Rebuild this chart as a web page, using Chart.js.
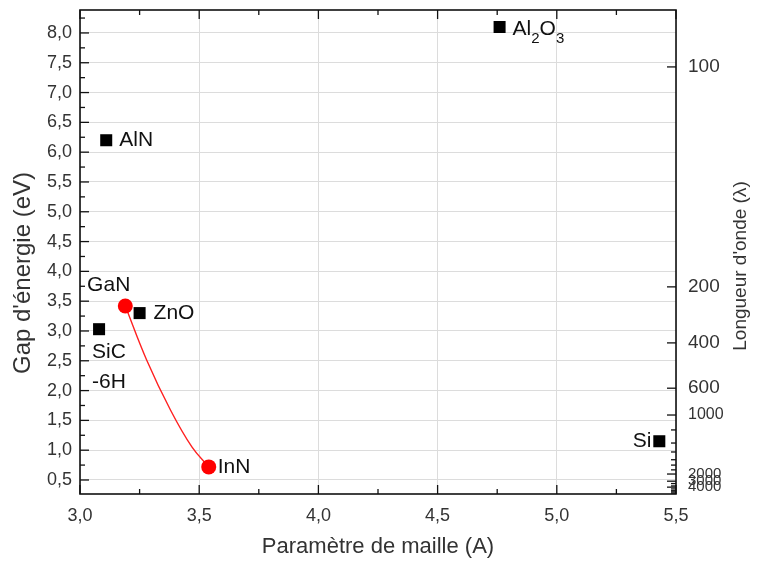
<!DOCTYPE html>
<html>
<head>
<meta charset="utf-8">
<script src="https://cdn.jsdelivr.net/npm/chart.js"></script>
<style>
  body { margin: 0; background: #fff; }
  #wrap { width: 758px; height: 563px; }
</style>
</head>
<body>
<div id="wrap"><canvas id="gap-chart" width="758" height="563"></canvas></div>
<script>
// materials drawn as black squares
const squareNames = ['AlN', 'ZnO', 'SiC\n-6H', 'Al2O3', 'Si'];
const squareLattice = [3.11, 3.25, 3.08, 4.76, 5.43];
const squareGap = [6.2, 3.3, 3.03, 8.1, 1.15];

// nitrides (red circles) and the InGaN curve between them
const nitrideNames = ['GaN', 'InN'];
const nitrideLattice = [3.19, 3.54];
const nitrideGap = [3.42, 0.72];
const curveLattice = [3.19, 3.28, 3.38, 3.47, 3.54];
const curveGap = [3.42, 2.51, 1.67, 1.05, 0.72];

// axes
const latticeTicks = [3.0, 3.5, 4.0, 4.5, 5.0, 5.5];
const latticeMinor = [3.25, 3.75, 4.25, 4.75, 5.25];
const gapTicks = [0.5, 1.0, 1.5, 2.0, 2.5, 3.0, 3.5, 4.0, 4.5, 5.0, 5.5, 6.0, 6.5, 7.0, 7.5, 8.0];
const gapMinor = [0.75, 1.25, 1.75, 2.25, 2.75, 3.25, 3.75, 4.25, 4.75, 5.25, 5.75, 6.25, 6.75, 7.25, 7.75, 8.25];
const waveLabels = ['100', '200', '400', '600', '1000', '2000', '3000', '4000'];
const waveAtGap = [7.43, 3.74, 2.80, 2.04, 1.59, 0.60, 0.48, 0.38];
const waveMinorAtGap = [1.34, 1.12, 0.97, 0.84, 0.75, 0.67, 0.44, 0.40, 0.35, 0.32, 0.30, 0.28];

const gapTitle = "Gap d'énergie (eV)";
const waveTitle = "Longueur d'onde (λ)";

const fontFam = "'Liberation Sans', Arial, sans-serif";
const toComma = v => v.toFixed(1).replace('.', ',');

// where each name goes relative to its marker: dx, dy, align
const labelPlace = {
  'AlN': [13, 0, 'left'],
  'ZnO': [14, 0, 'left'],
  'SiC\n-6H': [-7, 23, 'left'],
  'Al2O3': [13, 2, 'left'],
  'Si': [-8, 0, 'right'],
  'GaN': [5, -21, 'right'],
  'InN': [9, 0, 'left']
};

function drawName(ctx, text, x, y, align) {
  const big = '21px ' + fontFam, small = '15px ' + fontFam;
  const parts = [];
  for (let i = 0; i < text.length; i++) {
    const ch = text[i];
    // a digit right after a letter is a chemical subscript
    const sub = /[0-9]/.test(ch) && i > 0 && /[A-Za-z]/.test(text[i - 1]);
    parts.push({ch, sub});
  }
  let w = 0;
  parts.forEach(p => { ctx.font = p.sub ? small : big; p.w = ctx.measureText(p.ch).width; w += p.w; });
  let cx = align === 'right' ? x - w : x;
  ctx.textAlign = 'left';
  ctx.textBaseline = 'middle';
  parts.forEach(p => {
    ctx.font = p.sub ? small : big;
    ctx.fillText(p.ch, cx, p.sub ? y + 10 : y);
    cx += p.w;
  });
}

const nameLabels = {
  id: 'nameLabels',
  afterDatasetsDraw(chart) {
    const ctx = chart.ctx;
    ctx.save();
    ctx.fillStyle = '#111';
    [[0, squareNames], [2, nitrideNames]].forEach(([di, names]) => {
      chart.getDatasetMeta(di).data.forEach((pt, j) => {
        const name = names[j];
        const [dx, dy, align] = labelPlace[name];
        name.split('\n').forEach((line, k) => {
          drawName(ctx, line, pt.x + dx, pt.y + dy + k * 30, align);
        });
      });
    });
    ctx.restore();
  }
};

// both vertical titles read bottom-to-top in the original
const sideTitles = {
  id: 'sideTitles',
  afterDraw(chart) {
    const {ctx, chartArea: a, scales} = chart;
    const mid = (a.top + a.bottom) / 2;
    ctx.save();
    ctx.fillStyle = '#333';
    ctx.textAlign = 'center';
    ctx.textBaseline = 'middle';
    ctx.translate(scales.y.left + 23, mid + 21);
    ctx.rotate(-Math.PI / 2);
    ctx.font = '24px ' + fontFam;
    ctx.fillText(gapTitle, 0, 0);
    ctx.restore();
    ctx.save();
    ctx.fillStyle = '#333';
    ctx.textAlign = 'center';
    ctx.textBaseline = 'middle';
    ctx.translate(scales.y2.right - 17, mid + 14);
    ctx.rotate(-Math.PI / 2);
    ctx.font = '19px ' + fontFam;
    ctx.fillText(waveTitle, 0, 0);
    ctx.restore();
  }
};

const frameTicks = {
  id: 'frameTicks',
  afterDraw(chart) {
    const {ctx, chartArea: a, scales} = chart;
    const line = (x1, y1, x2, y2) => { ctx.beginPath(); ctx.moveTo(x1, y1); ctx.lineTo(x2, y2); ctx.stroke(); };
    ctx.save();
    ctx.strokeStyle = '#111';
    ctx.lineWidth = 1.3;
    gapTicks.forEach(v => { const p = scales.y.getPixelForValue(v); line(a.left, p, a.left + 9, p); });
    gapMinor.forEach(v => { const p = scales.y.getPixelForValue(v); line(a.left, p, a.left + 5, p); });
    latticeTicks.forEach(v => {
      const p = scales.x.getPixelForValue(v);
      line(p, a.bottom, p, a.bottom - 9); line(p, a.top, p, a.top + 9);
    });
    latticeMinor.forEach(v => {
      const p = scales.x.getPixelForValue(v);
      line(p, a.bottom, p, a.bottom - 5); line(p, a.top, p, a.top + 5);
    });
    waveAtGap.forEach(v => { const p = scales.y2.getPixelForValue(v); line(a.right, p, a.right - 9, p); });
    waveMinorAtGap.forEach(v => { const p = scales.y2.getPixelForValue(v); line(a.right, p, a.right - 5, p); });
    ctx.lineWidth = 1.6;
    ctx.strokeRect(a.left, a.top, a.right - a.left, a.bottom - a.top);
    ctx.restore();
  }
};

const noEdgePad = s => { s.paddingTop = 0; s.paddingBottom = 0; };

const ctx1 = document.getElementById('gap-chart').getContext('2d');
new Chart(ctx1, {
  type: 'scatter',
  data: {
    datasets: [
      {
        data: squareLattice.map((x, i) => ({x: x, y: squareGap[i]})),
        pointStyle: 'rect',
        pointRadius: 8.5,
        backgroundColor: '#000',
        borderColor: '#000',
        borderWidth: 0,
        order: 1
      },
      {
        type: 'line',
        data: curveLattice.map((x, i) => ({x: x, y: curveGap[i]})),
        borderColor: '#ff2020',
        borderWidth: 1.4,
        pointRadius: 0,
        tension: 0.4,
        fill: false,
        order: 3
      },
      {
        data: nitrideLattice.map((x, i) => ({x: x, y: nitrideGap[i]})),
        pointStyle: 'circle',
        pointRadius: 7.5,
        backgroundColor: '#ff0000',
        borderColor: '#ff0000',
        borderWidth: 0,
        order: 2
      }
    ]
  },
  options: {
    responsive: false,
    animation: false,
    layout: { padding: { top: 10, left: 0, right: 0, bottom: 0 } },
    plugins: { legend: { display: false }, tooltip: { enabled: false } },
    scales: {
      x: {
        type: 'linear',
        min: 3.0,
        max: 5.5,
        afterBuildTicks: s => { s.ticks = latticeTicks.map(v => ({value: v})); },
        afterFit: s => { s.height = 69; s.paddingLeft = 0; s.paddingRight = 0; },
        grid: { color: '#dcdcdc', drawTicks: false },
        border: { display: false },
        ticks: {
          callback: v => toComma(v),
          color: '#333',
          padding: 11,
          maxRotation: 0,
          autoSkip: false,
          font: { size: 18, family: fontFam }
        },
        title: {
          display: true,
          text: 'Paramètre de maille (A)',
          color: '#333',
          padding: { top: 0, bottom: 3 },
          font: { size: 22, family: fontFam }
        }
      },
      y: {
        type: 'linear',
        min: 0.265,
        max: 8.385,
        afterBuildTicks: s => { s.ticks = gapTicks.map(v => ({value: v})); },
        afterFit: s => { s.width = 80; noEdgePad(s); },
        grid: { color: '#dcdcdc', drawTicks: false },
        border: { display: false },
        ticks: {
          callback: v => toComma(v),
          color: '#333',
          padding: 8,
          autoSkip: false,
          font: { size: 18, family: fontFam }
        },
        title: { display: false }
      },
      y2: {
        type: 'linear',
        position: 'right',
        min: 0.265,
        max: 8.385,
        afterBuildTicks: s => { s.ticks = waveAtGap.map(v => ({value: v})); },
        afterFit: s => { s.width = 82; noEdgePad(s); },
        grid: { display: false, drawTicks: false },
        border: { display: false },
        ticks: {
          callback: (v, i) => waveLabels[i],
          color: '#333',
          padding: 12,
          autoSkip: false,
          font: c => ({ size: c.index >= 5 ? 15 : (c.index === 4 ? 16 : 19), family: fontFam })
        },
        title: { display: false }
      }
    }
  },
  plugins: [nameLabels, sideTitles, frameTicks]
});
</script>
</body>
</html>
